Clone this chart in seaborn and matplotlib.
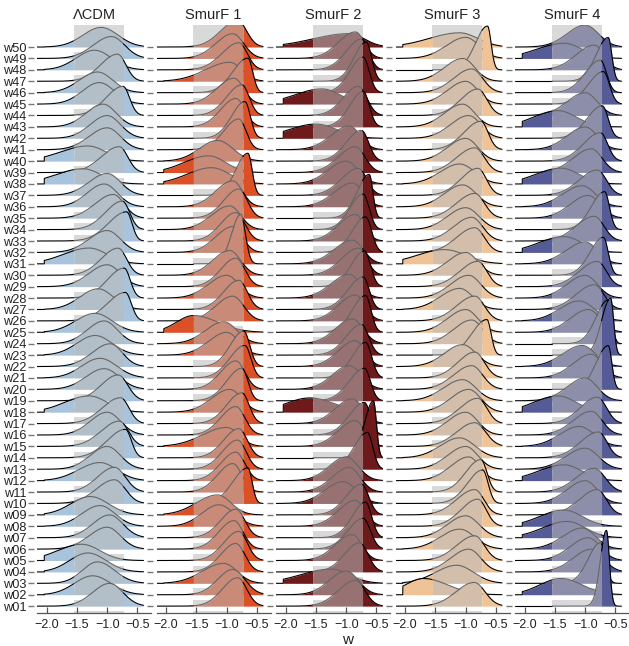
import numpy as np
import matplotlib
matplotlib.use("Agg")
import matplotlib.pyplot as plt
import seaborn as sns

# ---------------- data ----------------
panels = ["ΛCDM", "SmurF 1", "SmurF 2", "SmurF 3", "SmurF 4"]
rows = [f"w{i:02d}" for i in range(1, 51)]  # w01 (bottom) .. w50 (top)

# per-row mode, left spread, right spread of each posterior (w01..w50)
lcdm_mode = [-0.96, -1.24, -1.16, -1.32, -1.42, -1.00, -0.96, -1.12, -1.28, -0.88,
             -0.88, -1.12, -1.00, -0.70, -0.80, -1.00, -0.78, -1.30, -0.82, -1.05,
             -1.12, -0.95, -1.20, -1.05, -1.20, -0.70, -1.15, -0.72, -1.00, -0.82,
             -1.30, -1.00, -0.68, -0.75, -0.90, -1.05, -1.00, -1.40, -0.80, -1.32,
             -1.00, -1.00, -1.07, -0.74, -1.13, -1.16, -0.83, -1.21, -0.93, -1.10]
lcdm_sl = [0.28, 0.30, 0.25, 0.30, 0.40, 0.30, 0.28, 0.30, 0.32, 0.30,
           0.28, 0.35, 0.28, 0.30, 0.30, 0.28, 0.30, 0.40, 0.28, 0.30,
           0.30, 0.30, 0.30, 0.28, 0.32, 0.30, 0.30, 0.28, 0.30, 0.28,
           0.42, 0.30, 0.30, 0.28, 0.30, 0.28, 0.30, 0.45, 0.30, 0.45,
           0.30, 0.28, 0.28, 0.28, 0.28, 0.30, 0.28, 0.30, 0.30, 0.30]
lcdm_sr = [0.22, 0.30, 0.28, 0.30, 0.30, 0.22, 0.22, 0.25, 0.30, 0.18,
           0.18, 0.28, 0.22, 0.10, 0.15, 0.22, 0.14, 0.30, 0.16, 0.25,
           0.28, 0.20, 0.28, 0.22, 0.28, 0.10, 0.25, 0.10, 0.22, 0.14,
           0.30, 0.22, 0.09, 0.12, 0.18, 0.22, 0.22, 0.30, 0.14, 0.30,
           0.22, 0.22, 0.22, 0.11, 0.25, 0.25, 0.14, 0.28, 0.22, 0.28]

s1_mode = [-0.82, -0.90, -1.05, -0.85, -0.80, -0.88, -0.85, -1.13, -1.15, -0.65,
           -0.90, -0.85, -0.82, -0.80, -1.00, -0.85, -0.75, -0.95, -0.75, -0.85,
           -0.70, -0.72, -1.00, -1.05, -1.55, -0.90, -0.80, -1.00, -0.85, -0.95,
           -0.77, -0.90, -0.85, -0.95, -0.80, -0.90, -0.65, -1.25, -1.30, -1.15,
           -0.80, -0.70, -0.85, -0.75, -0.88, -0.65, -0.95, -0.80, -0.90, -0.82]
s1_sl = [0.25, 0.25, 0.35, 0.25, 0.25, 0.25, 0.25, 0.28, 0.35, 0.25,
         0.25, 0.25, 0.25, 0.25, 0.40, 0.25, 0.25, 0.30, 0.25, 0.25,
         0.25, 0.22, 0.30, 0.30, 0.28, 0.28, 0.25, 0.30, 0.25, 0.28,
         0.15, 0.28, 0.25, 0.30, 0.25, 0.28, 0.20, 0.40, 0.40, 0.30,
         0.25, 0.22, 0.25, 0.25, 0.28, 0.25, 0.40, 0.28, 0.28, 0.28]
s1_sr = [0.15, 0.20, 0.22, 0.15, 0.14, 0.15, 0.15, 0.25, 0.22, 0.07,
         0.15, 0.15, 0.14, 0.14, 0.20, 0.15, 0.12, 0.20, 0.10, 0.15,
         0.10, 0.10, 0.20, 0.22, 0.40, 0.18, 0.14, 0.20, 0.15, 0.18,
         0.08, 0.16, 0.15, 0.18, 0.14, 0.16, 0.07, 0.30, 0.28, 0.25,
         0.12, 0.09, 0.15, 0.12, 0.16, 0.08, 0.20, 0.14, 0.18, 0.15]

s2_mode = [-0.85, -1.00, -1.25, -0.78, -0.90, -0.72, -0.68, -0.85, -0.75, -1.05,
           -0.95, -1.00, -0.65, -0.55, -0.85, -0.70, -0.90, -1.60, -0.70, -0.95,
           -0.68, -0.85, -0.75, -0.90, -0.68, -0.85, -0.72, -0.95, -0.70, -0.80,
           -0.90, -0.68, -0.85, -0.72, -0.62, -0.90, -0.80, -1.00, -0.85, -0.75,
           -0.95, -1.50, -0.72, -0.80, -1.40, -0.72, -0.67, -0.75, -0.85, -0.95]
s2_sl = [0.28, 0.28, 0.50, 0.25, 0.28, 0.25, 0.22, 0.28, 0.25, 0.30,
         0.28, 0.28, 0.22, 0.15, 0.28, 0.25, 0.28, 0.40, 0.25, 0.28,
         0.22, 0.28, 0.25, 0.28, 0.22, 0.28, 0.25, 0.30, 0.22, 0.28,
         0.30, 0.22, 0.28, 0.22, 0.20, 0.30, 0.28, 0.30, 0.28, 0.25,
         0.30, 0.45, 0.22, 0.25, 0.45, 0.22, 0.20, 0.25, 0.28, 0.60]
s2_sr = [0.16, 0.20, 0.30, 0.14, 0.16, 0.12, 0.10, 0.16, 0.12, 0.22,
         0.18, 0.20, 0.09, 0.05, 0.16, 0.10, 0.18, 0.40, 0.10, 0.20,
         0.10, 0.16, 0.12, 0.18, 0.09, 0.16, 0.10, 0.18, 0.10, 0.14,
         0.18, 0.10, 0.15, 0.10, 0.06, 0.18, 0.14, 0.20, 0.16, 0.12,
         0.18, 0.35, 0.10, 0.14, 0.30, 0.10, 0.09, 0.12, 0.15, 0.25]

s3_mode = [-0.86, -1.70, -1.15, -0.95, -0.85, -1.10, -1.00, -0.80, -0.85, -0.72,
           -0.75, -0.95, -1.00, -1.10, -0.85, -1.00, -0.80, -0.95, -1.05, -0.90,
           -0.85, -1.05, -0.65, -0.90, -1.00, -0.85, -1.10, -0.95, -0.80, -1.00,
           -1.35, -0.85, -0.90, -1.00, -0.85, -1.05, -0.80, -1.10, -0.85, -1.00,
           -0.75, -0.95, -1.05, -0.80, -1.00, -0.90, -1.05, -0.64, -1.00, -1.10]
s3_sl = [0.30, 0.30, 0.35, 0.30, 0.30, 0.32, 0.30, 0.28, 0.30, 0.25,
         0.25, 0.30, 0.30, 0.32, 0.30, 0.30, 0.30, 0.30, 0.32, 0.30,
         0.28, 0.30, 0.25, 0.30, 0.30, 0.30, 0.32, 0.30, 0.30, 0.30,
         0.45, 0.30, 0.30, 0.30, 0.30, 0.30, 0.28, 0.32, 0.30, 0.30,
         0.28, 0.30, 0.30, 0.28, 0.30, 0.30, 0.30, 0.20, 0.32, 0.50]
s3_sr = [0.18, 0.40, 0.28, 0.20, 0.16, 0.25, 0.22, 0.14, 0.15, 0.09,
         0.10, 0.18, 0.20, 0.25, 0.18, 0.20, 0.15, 0.20, 0.22, 0.18,
         0.16, 0.22, 0.07, 0.18, 0.20, 0.16, 0.22, 0.20, 0.15, 0.20,
         0.35, 0.16, 0.18, 0.22, 0.16, 0.22, 0.14, 0.25, 0.16, 0.20,
         0.12, 0.20, 0.20, 0.15, 0.20, 0.18, 0.20, 0.06, 0.22, 0.30]

s4_mode = [-0.65, -1.40, -0.75, -0.90, -0.95, -1.05, -1.30, -1.35, -0.80, -1.00,
           -0.85, -1.35, -1.00, -0.78, -1.10, -0.90, -0.80, -1.45, -1.00, -0.62,
           -0.90, -1.05, -0.58, -0.62, -0.95, -1.10, -0.85, -1.00, -0.80, -0.70,
           -1.00, -1.35, -0.85, -0.68, -0.95, -1.05, -0.80, -1.40, -0.90, -0.75,
           -1.00, -0.72, -1.45, -1.00, -0.70, -0.75, -0.62, -0.85, -1.35, -1.00]
s4_sl = [0.10, 0.35, 0.20, 0.30, 0.30, 0.32, 0.40, 0.40, 0.30, 0.30,
         0.30, 0.42, 0.32, 0.30, 0.32, 0.30, 0.28, 0.40, 0.30, 0.20,
         0.30, 0.32, 0.15, 0.20, 0.30, 0.32, 0.30, 0.30, 0.30, 0.22,
         0.32, 0.42, 0.30, 0.22, 0.30, 0.32, 0.30, 0.42, 0.30, 0.28,
         0.30, 0.25, 0.40, 0.30, 0.25, 0.25, 0.20, 0.30, 0.45, 0.30]
s4_sr = [0.05, 0.35, 0.08, 0.20, 0.20, 0.22, 0.30, 0.30, 0.15, 0.20,
         0.18, 0.30, 0.22, 0.14, 0.25, 0.18, 0.15, 0.30, 0.20, 0.06,
         0.18, 0.22, 0.05, 0.06, 0.20, 0.25, 0.16, 0.20, 0.15, 0.08,
         0.20, 0.30, 0.16, 0.08, 0.20, 0.22, 0.15, 0.30, 0.18, 0.12,
         0.20, 0.10, 0.30, 0.20, 0.10, 0.10, 0.06, 0.16, 0.30, 0.22]

modes = [lcdm_mode, s1_mode, s2_mode, s3_mode, s4_mode]
left_sd = [lcdm_sl, s1_sl, s2_sl, s3_sl, s4_sl]
right_sd = [lcdm_sr, s1_sr, s2_sr, s3_sr, s4_sr]

tail_colors = ["#a8c4dc", "#dc5028", "#6e1a1a", "#f0c396", "#555b96"]
band = (-1.55, -0.73)          # shaded interval
w_bounds = (-2.04, -0.30)      # support of the posteriors
xticks = [-2.0, -1.5, -1.0, -0.5]

# ---------------- drawing ----------------
sns.set_theme(style="white")
plt.rcParams["font.family"] = ["Liberation Sans", "DejaVu Sans"]
plt.rcParams["ytick.left"] = True
plt.rcParams["xtick.bottom"] = True

W, H = 629, 646
fig = plt.figure(figsize=(W / 100, H / 100), dpi=100)

overlay = np.array([186, 186, 186]) / 255.0
alpha_ov = 0.55
scale = 1.25
n = len(rows)
ylo, yhi = 0.40, 51.93
xlo, xhi = -2.16, -0.276
line_end = -0.40

x = np.linspace(xlo, line_end, 900)
x = np.unique(np.concatenate([x, [band[0], band[1], w_bounds[0], w_bounds[0] - 1e-6]]))


def split_density(xv, m, sl, sr):
    s = np.where(xv < m, sl, sr)
    d = np.exp(-0.5 * ((xv - m) / s) ** 2) * 2.0 / (np.sqrt(2 * np.pi) * (sl + sr))
    d[(xv < w_bounds[0]) | (xv > w_bounds[1])] = 0.0
    return d


for p, name in enumerate(panels):
    left_px = 37 + 119.5 * p
    ax = fig.add_axes([left_px / W, (H - 613) / H, 114 / W, 588 / H])
    ax.set_xlim(xlo, xhi)
    ax.set_ylim(ylo, yhi)

    sat = np.array(matplotlib.colors.to_rgb(tail_colors[p]))
    mid = sat * (1 - alpha_ov) + overlay * alpha_ov
    line_mid = np.array([0, 0, 0]) * (1 - alpha_ov) + overlay * alpha_ov

    # shaded band and white strips under each baseline
    ax.axvspan(band[0], band[1], color="#d9d9d9", lw=0, zorder=0)
    for i in range(n):
        base = i + 1
        ax.fill_between(band, base - 0.45, base, color="white", lw=0, zorder=0.5)

    left = x <= band[0]
    middle = (x >= band[0]) & (x <= band[1])
    right = x >= band[1]

    for i in range(n - 1, -1, -1):
        base = i + 1
        d = split_density(x, modes[p][i], left_sd[p][i], right_sd[p][i])
        yv = base + scale * d
        z = 2 + (n - i) * 0.01
        ax.fill_between(x[left], base, yv[left], color=sat, lw=0, zorder=z)
        ax.fill_between(x[middle], base, yv[middle], color=mid, lw=0, zorder=z)
        ax.fill_between(x[right], base, yv[right], color=sat, lw=0, zorder=z)
        ax.plot(x[left], yv[left], color="black", lw=0.8, zorder=z + 0.001)
        ax.plot(x[middle], yv[middle], color=line_mid, lw=0.8, zorder=z + 0.001)
        ax.plot(x[right], yv[right], color="black", lw=0.8, zorder=z + 0.001)

    for side in ["top", "right"]:
        ax.spines[side].set_visible(False)
    ax.spines["left"].set_visible(False)
    ax.spines["left"].set_position(("outward", 2.5))
    ax.spines["bottom"].set_visible(True)
    ax.spines["bottom"].set_color("#555555")
    ax.spines["bottom"].set_linewidth(0.9)
    ax.set_xticks(xticks)
    ax.set_xticklabels([f"\u2212{abs(t):.1f}" for t in xticks], fontsize=9, color="#222222")
    ax.tick_params(axis="x", which="major", bottom=True, direction="in", length=4,
                   width=0.9, color="#555555", pad=4)
    ax.set_yticks(np.arange(1, n + 1))
    if p == 0:
        ax.set_yticklabels(rows, fontsize=9.2, color="#222222")
    else:
        ax.set_yticklabels([])
    ax.tick_params(axis="y", which="major", left=True, direction="out", length=4,
                   width=1.0, color="#777777", pad=1.0)
    ax.set_title(name, fontsize=10.5, pad=4, color="#222222")
    ax.grid(False)
    ax.set_facecolor("none")

fig.text(348 / W, 1 - 640 / H, "w", ha="center", va="center", fontsize=11, color="#222222")
fig.savefig("out.png", dpi=100)
